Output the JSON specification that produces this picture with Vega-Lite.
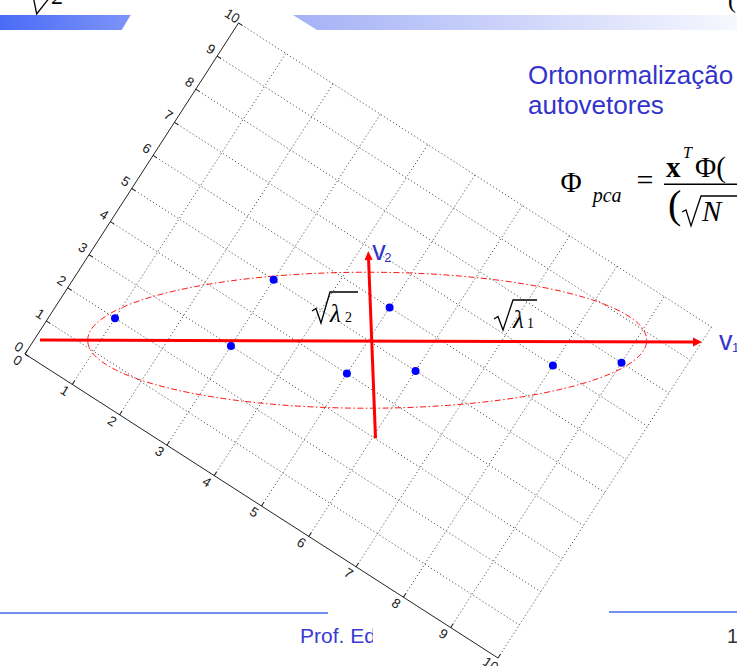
{
  "$schema": "https://vega.github.io/schema/vega-lite/v6.json",
  "width": 737,
  "height": 666,
  "autosize": {"type": "none"},
  "padding": 0,
  "background": "white",
  "config": {"view": {"stroke": null}},
  "datasets": {
    "pts": [
      {"gx": 1, "gy": 2}, {"gx": 3, "gy": 3}, {"gx": 3, "gy": 5}, {"gx": 5, "gy": 4},
      {"gx": 5, "gy": 6}, {"gx": 6, "gy": 5}, {"gx": 8, "gy": 7}, {"gx": 9, "gy": 8}
    ],
    "grid": [
      {"k": 0, "gx1": 0, "gy1": 0, "gx2": 0, "gy2": 10}, {"k": 0, "gx1": 0, "gy1": 0, "gx2": 10, "gy2": 0},
      {"k": 1, "gx1": 1, "gy1": 0, "gx2": 1, "gy2": 10}, {"k": 1, "gx1": 0, "gy1": 1, "gx2": 10, "gy2": 1},
      {"k": 2, "gx1": 2, "gy1": 0, "gx2": 2, "gy2": 10}, {"k": 2, "gx1": 0, "gy1": 2, "gx2": 10, "gy2": 2},
      {"k": 3, "gx1": 3, "gy1": 0, "gx2": 3, "gy2": 10}, {"k": 3, "gx1": 0, "gy1": 3, "gx2": 10, "gy2": 3},
      {"k": 4, "gx1": 4, "gy1": 0, "gx2": 4, "gy2": 10}, {"k": 4, "gx1": 0, "gy1": 4, "gx2": 10, "gy2": 4},
      {"k": 5, "gx1": 5, "gy1": 0, "gx2": 5, "gy2": 10}, {"k": 5, "gx1": 0, "gy1": 5, "gx2": 10, "gy2": 5},
      {"k": 6, "gx1": 6, "gy1": 0, "gx2": 6, "gy2": 10}, {"k": 6, "gx1": 0, "gy1": 6, "gx2": 10, "gy2": 6},
      {"k": 7, "gx1": 7, "gy1": 0, "gx2": 7, "gy2": 10}, {"k": 7, "gx1": 0, "gy1": 7, "gx2": 10, "gy2": 7},
      {"k": 8, "gx1": 8, "gy1": 0, "gx2": 8, "gy2": 10}, {"k": 8, "gx1": 0, "gy1": 8, "gx2": 10, "gy2": 8},
      {"k": 9, "gx1": 9, "gy1": 0, "gx2": 9, "gy2": 10}, {"k": 9, "gx1": 0, "gy1": 9, "gx2": 10, "gy2": 9},
      {"k": 10, "gx1": 10, "gy1": 0, "gx2": 10, "gy2": 10}, {"k": 10, "gx1": 0, "gy1": 10, "gx2": 10, "gy2": 10}
    ],
    "ticks": [
      {"ax": "x", "k": 0, "gx": 0, "gy": 0}, {"ax": "x", "k": 1, "gx": 1, "gy": 0}, {"ax": "x", "k": 2, "gx": 2, "gy": 0},
      {"ax": "x", "k": 3, "gx": 3, "gy": 0}, {"ax": "x", "k": 4, "gx": 4, "gy": 0}, {"ax": "x", "k": 5, "gx": 5, "gy": 0},
      {"ax": "x", "k": 6, "gx": 6, "gy": 0}, {"ax": "x", "k": 7, "gx": 7, "gy": 0}, {"ax": "x", "k": 8, "gx": 8, "gy": 0},
      {"ax": "x", "k": 9, "gx": 9, "gy": 0}, {"ax": "x", "k": 10, "gx": 10, "gy": 0},
      {"ax": "y", "k": 0, "gx": 0, "gy": 0}, {"ax": "y", "k": 1, "gx": 0, "gy": 1}, {"ax": "y", "k": 2, "gx": 0, "gy": 2},
      {"ax": "y", "k": 3, "gx": 0, "gy": 3}, {"ax": "y", "k": 4, "gx": 0, "gy": 4}, {"ax": "y", "k": 5, "gx": 0, "gy": 5},
      {"ax": "y", "k": 6, "gx": 0, "gy": 6}, {"ax": "y", "k": 7, "gx": 0, "gy": 7}, {"ax": "y", "k": 8, "gx": 0, "gy": 8},
      {"ax": "y", "k": 9, "gx": 0, "gy": 9}, {"ax": "y", "k": 10, "gx": 0, "gy": 10}
    ],
    "bars": [
      {"bar": "L", "u": -6.549, "w": 5.789, "w2": 5.522},
      {"bar": "L", "u": -4.385, "w": 5.789, "w2": 5.522},
      {"bar": "L", "u": -4.225, "w": 5.789, "w2": 5.789},
      {"bar": "R", "u": -1.338, "w": 5.789, "w2": 5.789},
      {"bar": "R", "u": -0.911, "w": 5.789, "w2": 5.522},
      {"bar": "R", "u": 6.7, "w": 5.789, "w2": 5.522}
    ],
    "foot": [
      {"u": -6.6, "u2": -0.7158, "w": -4.8462},
      {"u": 4.2815, "u2": 6.7, "w": -4.8284}
    ],
    "frac": [{"u": 5.2597, "u2": 6.7, "w": 2.7779}],
    "mask": [{"u": 0.0845, "u2": 0.9201, "w": -4.9706, "w2": -5.5042}],
    "axes": [
      {"u": -5.838, "w": 0.009, "u2": 5.7754, "w2": -0.0267},
      {"u": 0.129, "w": -1.7375, "u2": 0.0062, "w2": 1.4316}
    ],
    "heads": [
      {"dir": "right", "u": 5.8554, "w": -0.0285},
      {"dir": "up", "u": 0.0027, "w": 1.5117}
    ],
    "ell": [{"u": -0.019, "w": 0.005}],
    "rad": [
      {"id": "r2", "o": 1, "u": -1.0004, "w": 0.5246}, {"id": "r2", "o": 2, "u": -0.9292, "w": 0.5691},
      {"id": "r2", "o": 3, "u": -0.8403, "w": 0.3112}, {"id": "r2", "o": 4, "u": -0.6802, "w": 0.8625},
      {"id": "r2", "o": 5, "u": -0.1823, "w": 0.8625},
      {"id": "r1", "o": 1, "u": 2.2364, "w": 0.3824}, {"id": "r1", "o": 2, "u": 2.3075, "w": 0.4268},
      {"id": "r1", "o": 3, "u": 2.3964, "w": 0.1867}, {"id": "r1", "o": 4, "u": 2.5742, "w": 0.7203},
      {"id": "r1", "o": 5, "u": 3.0011, "w": 0.7203},
      {"id": "rN", "o": 1, "u": 5.5797, "w": 2.2853}, {"id": "rN", "o": 2, "u": 5.6509, "w": 2.3208},
      {"id": "rN", "o": 3, "u": 5.7398, "w": 2.0363}, {"id": "rN", "o": 4, "u": 5.9177, "w": 2.5698},
      {"id": "rN", "o": 5, "u": 6.6112, "w": 2.5698},
      {"id": "rT", "o": 1, "u": -5.9577, "w": 6.1088}, {"id": "rT", "o": 2, "u": -5.8963, "w": 5.8065},
      {"id": "rT", "o": 3, "u": -5.6598, "w": 6.1088}
    ],
    "txt": [
      {"g": "title", "t": "Ortonormalização", "u": 2.841, "w": 4.5563},
      {"g": "title", "t": "autovetores", "u": 2.841, "w": 4.0228},
      {"g": "foot", "t": "Prof. Ed", "u": -1.2138, "w": -5.3797},
      {"g": "page", "t": "1", "u": 6.38, "w": -5.3797},
      {"g": "v", "t": "v", "u": 0.072, "w": 1.4316},
      {"g": "v", "t": "v", "u": 6.2378, "w": -0.169},
      {"g": "vsub", "t": "2", "u": 0.2854, "w": 1.4014},
      {"g": "vsub", "t": "1", "u": 6.469, "w": -0.1992},
      {"g": "lam", "t": "λ", "u": -0.6802, "w": 0.329},
      {"g": "lam", "t": "λ", "u": 2.5742, "w": 0.2223},
      {"g": "lamsub", "t": "2", "u": -0.4135, "w": 0.329},
      {"g": "lamsub", "t": "1", "u": 2.8232, "w": 0.2223},
      {"g": "phi", "t": "Φ", "u": 3.419, "w": 2.641},
      {"g": "phi", "t": "Φ(", "u": 5.811, "w": 2.9077},
      {"g": "pca", "t": "pca", "u": 3.9916, "w": 2.4685},
      {"g": "eq", "t": "=", "u": 4.7706, "w": 2.6765},
      {"g": "bx", "t": "x", "u": 5.2952, "w": 2.913},
      {"g": "sup", "t": "T", "u": 5.5976, "w": 3.2456},
      {"g": "paren", "t": "(", "u": 5.3307, "w": 2.1786},
      {"g": "N", "t": "N", "u": 5.9354, "w": 2.1252},
      {"g": "top", "t": "2", "u": -5.642, "w": 5.9843},
      {"g": "top", "t": "(", "u": 6.398, "w": 5.9132}
    ]
  },
  "encoding": {
    "x": {"field": "u", "type": "quantitative", "scale": {"domain": [-6.549, 6.5578], "nice": false, "zero": false}, "axis": null},
    "y": {"field": "w", "type": "quantitative", "scale": {"domain": [-5.7887, 6.0555], "nice": false, "zero": false}, "axis": null}
  },
  "layer": [
    {
      "data": {"name": "bars"},
      "transform": [{"filter": "datum.bar == 'L'"}],
      "mark": {"type": "area", "opacity": 1, "color": {"gradient": "linear", "x1": 0, "y1": 0, "x2": 1, "y2": 0, "stops": [{"offset": 0, "color": "#4a6bf6"}, {"offset": 1, "color": "#7d94f8"}]}},
      "encoding": {"y2": {"field": "w2"}}
    },
    {
      "data": {"name": "bars"},
      "transform": [{"filter": "datum.bar == 'R'"}],
      "mark": {"type": "area", "opacity": 1, "color": {"gradient": "linear", "x1": 0, "y1": 0, "x2": 1, "y2": 0, "stops": [{"offset": 0, "color": "#a4b1f6"}, {"offset": 1, "color": "#f8f9fe"}]}},
      "encoding": {"y2": {"field": "w2"}}
    },
    {
      "data": {"name": "foot"},
      "mark": {"type": "rule", "color": "#6f8ff2", "strokeWidth": 2},
      "encoding": {"x2": {"field": "u2"}}
    },
    {
      "data": {"name": "txt"},
      "transform": [{"filter": "datum.g == 'foot'"}],
      "mark": {"type": "text", "align": "left", "baseline": "alphabetic", "font": "Liberation Sans", "fontSize": 21, "color": "#3a3ad4"},
      "encoding": {"text": {"field": "t"}}
    },
    {
      "data": {"name": "mask"},
      "mark": {"type": "rect", "color": "white", "opacity": 1},
      "encoding": {"x2": {"field": "u2"}, "y2": {"field": "w2"}}
    },
    {
      "data": {"name": "txt"},
      "transform": [{"filter": "datum.g == 'page'"}],
      "mark": {"type": "text", "align": "left", "baseline": "alphabetic", "font": "Liberation Sans", "fontSize": 20, "color": "#333333"},
      "encoding": {"text": {"field": "t"}}
    },
    {
      "data": {"name": "grid"},
      "transform": [
        {"filter": "datum.k > 0"},
        {"calculate": "0.8412*(datum.gx1-5)+0.3797*(datum.gy1-5)", "as": "u"},
        {"calculate": "-0.5406*(datum.gx1-5)+0.5887*(datum.gy1-5)", "as": "w"},
        {"calculate": "0.8412*(datum.gx2-5)+0.3797*(datum.gy2-5)", "as": "u2"},
        {"calculate": "-0.5406*(datum.gx2-5)+0.5887*(datum.gy2-5)", "as": "w2"}
      ],
      "mark": {"type": "rule", "color": "#555555", "strokeWidth": 1, "strokeDash": [1.2, 2.4]},
      "encoding": {"x2": {"field": "u2"}, "y2": {"field": "w2"}}
    },
    {
      "data": {"name": "grid"},
      "transform": [
        {"filter": "datum.k == 0"},
        {"calculate": "0.8412*(datum.gx1-5)+0.3797*(datum.gy1-5)", "as": "u"},
        {"calculate": "-0.5406*(datum.gx1-5)+0.5887*(datum.gy1-5)", "as": "w"},
        {"calculate": "0.8412*(datum.gx2-5)+0.3797*(datum.gy2-5)", "as": "u2"},
        {"calculate": "-0.5406*(datum.gx2-5)+0.5887*(datum.gy2-5)", "as": "w2"}
      ],
      "mark": {"type": "rule", "color": "#222222", "strokeWidth": 1},
      "encoding": {"x2": {"field": "u2"}, "y2": {"field": "w2"}}
    },
    {
      "data": {"name": "ticks"},
      "transform": [
        {"filter": "datum.ax == 'y'"},
        {"calculate": "0.8412*(datum.gx-5)+0.3797*(datum.gy-5)", "as": "u"},
        {"calculate": "-0.5406*(datum.gx-5)+0.5887*(datum.gy-5)", "as": "w"}
      ],
      "layer": [
        {"mark": {"type": "point", "shape": "M0,0L1,0", "size": 81, "angle": 32.73, "filled": false, "color": "#222222", "strokeWidth": 1, "opacity": 1}},
        {"mark": {"type": "text", "angle": 32.73, "dx": -9, "dy": -2, "align": "center", "baseline": "middle", "font": "Liberation Sans", "fontSize": 13.5, "color": "#222222"}, "encoding": {"text": {"field": "k", "type": "nominal"}}}
      ]
    },
    {
      "data": {"name": "ticks"},
      "transform": [
        {"filter": "datum.ax == 'x'"},
        {"calculate": "0.8412*(datum.gx-5)+0.3797*(datum.gy-5)", "as": "u"},
        {"calculate": "-0.5406*(datum.gx-5)+0.5887*(datum.gy-5)", "as": "w"}
      ],
      "layer": [
        {"mark": {"type": "point", "shape": "M0,0L1,0", "size": 81, "angle": -57.18, "filled": false, "color": "#222222", "strokeWidth": 1, "opacity": 1}},
        {"mark": {"type": "text", "angle": 32.73, "dx": -2.8, "dy": 9.85, "align": "center", "baseline": "middle", "font": "Liberation Sans", "fontSize": 13.5, "color": "#222222"}, "encoding": {"text": {"field": "k", "type": "nominal"}}}
      ]
    },
    {
      "data": {"name": "ell"},
      "mark": {"type": "point", "shape": "M-1,0C-1,-0.1344,-0.5523,-0.2433,0,-0.2433C0.5523,-0.2433,1,-0.1344,1,0C1,0.1344,0.5523,0.2433,0,0.2433C-0.5523,0.2433,-1,0.1344,-1,0Z", "size": 312481, "filled": false, "color": "#ff0000", "strokeWidth": 1, "strokeDash": [6, 2.5, 1.5, 2.5], "opacity": 0.9}
    },
    {
      "data": {"name": "axes"},
      "mark": {"type": "rule", "color": "#ff0000", "strokeWidth": 3},
      "encoding": {"x2": {"field": "u2"}, "y2": {"field": "w2"}}
    },
    {
      "data": {"name": "heads"},
      "transform": [{"filter": "datum.dir == 'right'"}],
      "mark": {"type": "point", "shape": "M-1,-1L1,0L-1,1Z", "size": 81, "filled": true, "color": "#ff0000", "opacity": 1}
    },
    {
      "data": {"name": "heads"},
      "transform": [{"filter": "datum.dir == 'up'"}],
      "mark": {"type": "point", "shape": "M-0.9,1L0,-1L0.9,1Z", "size": 81, "angle": -2.25, "filled": true, "color": "#ff0000", "opacity": 1}
    },
    {
      "data": {"name": "rad"},
      "mark": {"type": "line", "color": "#000000", "strokeWidth": 1.3},
      "encoding": {"detail": {"field": "id"}, "order": {"field": "o", "type": "quantitative"}}
    },
    {
      "data": {"name": "frac"},
      "mark": {"type": "rule", "color": "#000000", "strokeWidth": 1.4},
      "encoding": {"x2": {"field": "u2"}}
    },
    {
      "data": {"name": "txt"},
      "transform": [{"filter": "datum.g == 'lam'"}],
      "mark": {"type": "text", "align": "left", "baseline": "alphabetic", "font": "Liberation Serif", "fontStyle": "italic", "fontSize": 25, "color": "#000000"},
      "encoding": {"text": {"field": "t"}}
    },
    {
      "data": {"name": "txt"},
      "transform": [{"filter": "datum.g == 'lamsub'"}],
      "mark": {"type": "text", "align": "left", "baseline": "alphabetic", "font": "Liberation Serif", "fontSize": 14, "color": "#000000"},
      "encoding": {"text": {"field": "t"}}
    },
    {
      "data": {"name": "txt"},
      "transform": [{"filter": "datum.g == 'phi'"}],
      "mark": {"type": "text", "align": "left", "baseline": "alphabetic", "font": "Liberation Serif", "fontSize": 29, "color": "#000000"},
      "encoding": {"text": {"field": "t"}}
    },
    {
      "data": {"name": "txt"},
      "transform": [{"filter": "datum.g == 'pca'"}],
      "mark": {"type": "text", "align": "left", "baseline": "alphabetic", "font": "Liberation Serif", "fontStyle": "italic", "fontSize": 20, "color": "#000000"},
      "encoding": {"text": {"field": "t"}}
    },
    {
      "data": {"name": "txt"},
      "transform": [{"filter": "datum.g == 'eq'"}],
      "mark": {"type": "text", "align": "left", "baseline": "alphabetic", "font": "Liberation Serif", "fontSize": 30, "color": "#000000"},
      "encoding": {"text": {"field": "t"}}
    },
    {
      "data": {"name": "txt"},
      "transform": [{"filter": "datum.g == 'bx'"}],
      "mark": {"type": "text", "align": "left", "baseline": "alphabetic", "font": "Liberation Serif", "fontWeight": "bold", "fontSize": 29, "color": "#000000"},
      "encoding": {"text": {"field": "t"}}
    },
    {
      "data": {"name": "txt"},
      "transform": [{"filter": "datum.g == 'sup'"}],
      "mark": {"type": "text", "align": "left", "baseline": "alphabetic", "font": "Liberation Serif", "fontStyle": "italic", "fontSize": 16, "color": "#000000"},
      "encoding": {"text": {"field": "t"}}
    },
    {
      "data": {"name": "txt"},
      "transform": [{"filter": "datum.g == 'paren'"}],
      "mark": {"type": "text", "align": "left", "baseline": "alphabetic", "font": "Liberation Serif", "fontSize": 40, "color": "#000000"},
      "encoding": {"text": {"field": "t"}}
    },
    {
      "data": {"name": "txt"},
      "transform": [{"filter": "datum.g == 'N'"}],
      "mark": {"type": "text", "align": "left", "baseline": "alphabetic", "font": "Liberation Serif", "fontStyle": "italic", "fontSize": 29, "color": "#000000"},
      "encoding": {"text": {"field": "t"}}
    },
    {
      "data": {"name": "txt"},
      "transform": [{"filter": "datum.g == 'top'"}],
      "mark": {"type": "text", "align": "left", "baseline": "alphabetic", "font": "Liberation Serif", "fontSize": 24, "color": "#000000"},
      "encoding": {"text": {"field": "t"}}
    },
    {
      "data": {"name": "txt"},
      "transform": [{"filter": "datum.g == 'title'"}],
      "mark": {"type": "text", "align": "left", "baseline": "alphabetic", "font": "Liberation Sans", "fontSize": 26, "color": "#3333cc"},
      "encoding": {"text": {"field": "t"}}
    },
    {
      "data": {"name": "txt"},
      "transform": [{"filter": "datum.g == 'v'"}],
      "mark": {"type": "text", "align": "left", "baseline": "alphabetic", "font": "Liberation Sans", "fontSize": 27, "color": "#3333cc"},
      "encoding": {"text": {"field": "t"}}
    },
    {
      "data": {"name": "txt"},
      "transform": [{"filter": "datum.g == 'vsub'"}],
      "mark": {"type": "text", "align": "left", "baseline": "alphabetic", "font": "Liberation Sans", "fontSize": 13, "color": "#3333cc"},
      "encoding": {"text": {"field": "t"}}
    },
    {
      "data": {"name": "pts"},
      "transform": [
        {"calculate": "0.8412*(datum.gx-5)+0.3797*(datum.gy-5)", "as": "u"},
        {"calculate": "-0.5406*(datum.gx-5)+0.5887*(datum.gy-5)", "as": "w"}
      ],
      "mark": {"type": "point", "shape": "circle", "filled": true, "size": 64, "color": "#0000ff", "opacity": 1}
    }
  ]
}
